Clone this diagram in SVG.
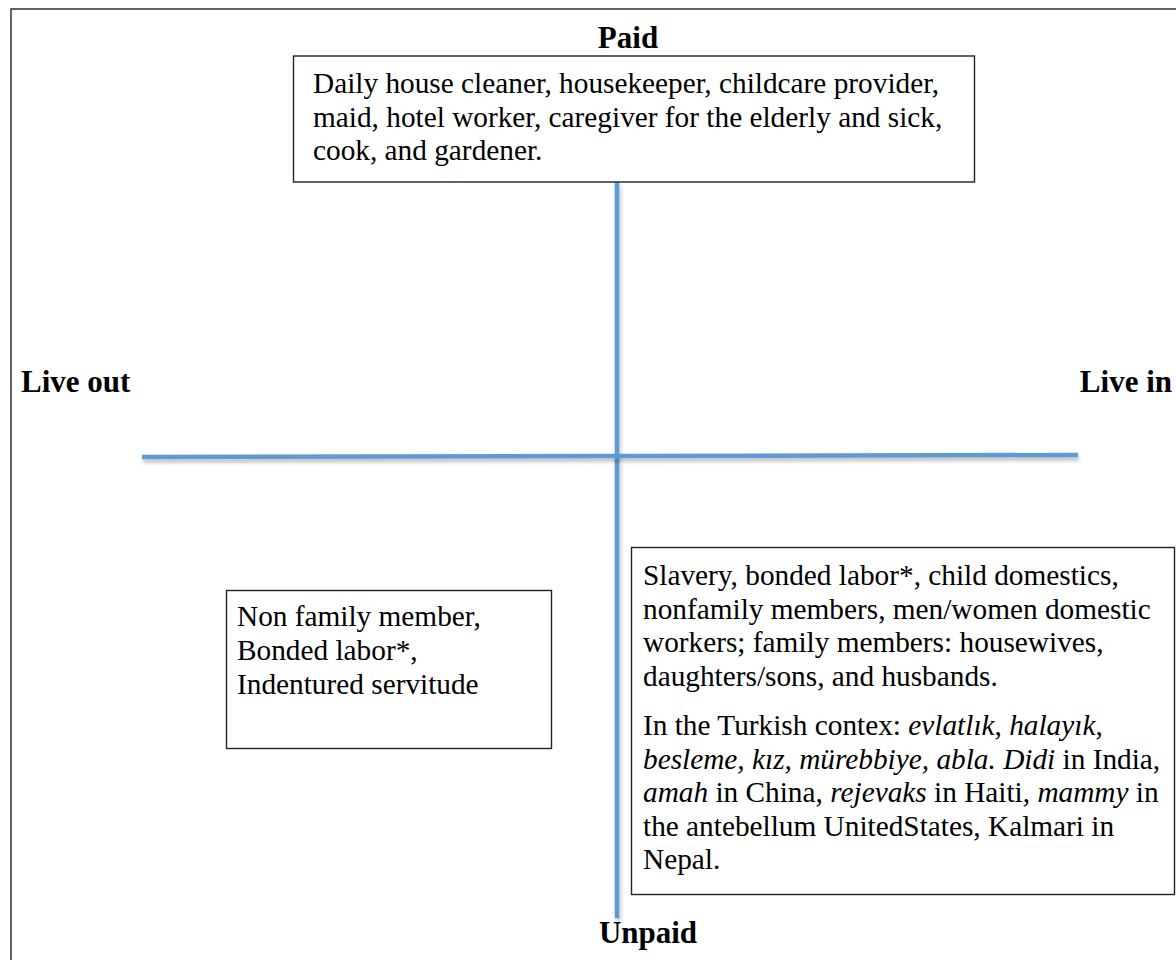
<svg xmlns="http://www.w3.org/2000/svg" width="1176" height="960" viewBox="0 0 1176 960">
<style>
.t{font-family:"Liberation Serif","Times New Roman",serif;font-size:29.3px;fill:#000}
.b{font-family:"Liberation Serif","Times New Roman",serif;font-size:31px;font-weight:bold;fill:#000}
.i{font-style:italic}
.box{fill:#fff;stroke:#222;stroke-width:1.4}
.ax{stroke:#5b9bd5;stroke-width:4.5;fill:none}
</style>
<defs>
<filter id="sh" filterUnits="userSpaceOnUse" x="0" y="0" width="1176" height="960"><feGaussianBlur in="SourceAlpha" stdDeviation="2"/><feOffset dx="1" dy="3"/><feComponentTransfer><feFuncA type="linear" slope="0.3"/></feComponentTransfer><feMerge><feMergeNode/><feMergeNode in="SourceGraphic"/></feMerge></filter>
</defs>
<rect x="11" y="9" width="1200" height="1000" fill="none" stroke="#000" stroke-width="1.2"/>
<g id="connectors">
<line class="ax" x1="617" y1="182" x2="617" y2="918" filter="url(#sh)"/>
<line class="ax" x1="142" y1="457" x2="1078" y2="455" filter="url(#sh)"/>
</g>
<g id="paid-label"><text class="b" x="628" y="48" text-anchor="middle">Paid</text></g>
<g id="unpaid-label"><text class="b" x="648" y="943" text-anchor="middle">Unpaid</text></g>
<g id="liveout-label"><text class="b" x="21" y="392">Live out</text></g>
<g id="livein-label"><text class="b" x="1172" y="392" text-anchor="end">Live in</text></g>
<g id="paid-box">
<rect class="box" x="293.5" y="56" width="681" height="126"/>
<text class="t" x="313" y="93">Daily house cleaner, housekeeper, childcare provider,</text>
<text class="t" x="313" y="126.5">maid, hotel worker, caregiver for the elderly and sick,</text>
<text class="t" x="313" y="160">cook, and gardener.</text>
</g>
<g id="liveout-box">
<rect class="box" x="226.5" y="590.5" width="325" height="158"/>
<text class="t" x="237" y="626">Non family member,</text>
<text class="t" x="237" y="660">Bonded labor*,</text>
<text class="t" x="237" y="694">Indentured servitude</text>
</g>
<g id="livein-box">
<rect class="box" x="631.5" y="547.5" width="543" height="347"/>
<text class="t" x="643" y="585">Slavery, bonded labor*, child domestics,</text>
<text class="t" x="643" y="618.5">nonfamily members, men/women domestic</text>
<text class="t" x="643" y="652">workers; family members: housewives,</text>
<text class="t" x="643" y="685.5">daughters/sons, and husbands.</text>
<text class="t" x="643" y="735">In the Turkish contex: <tspan class="i">evlatlık</tspan>, <tspan class="i">halayık</tspan>,</text>
<text class="t" x="643" y="768.5"><tspan class="i">besleme, kız, mürebbiye, abla. Didi</tspan> in India,</text>
<text class="t" x="643" y="802"><tspan class="i">amah</tspan> in China, <tspan class="i">rejevaks</tspan> in Haiti, <tspan class="i">mammy</tspan> in</text>
<text class="t" x="643" y="835.5">the antebellum UnitedStates, Kalmari in</text>
<text class="t" x="643" y="869">Nepal.</text>
</g>
</svg>
